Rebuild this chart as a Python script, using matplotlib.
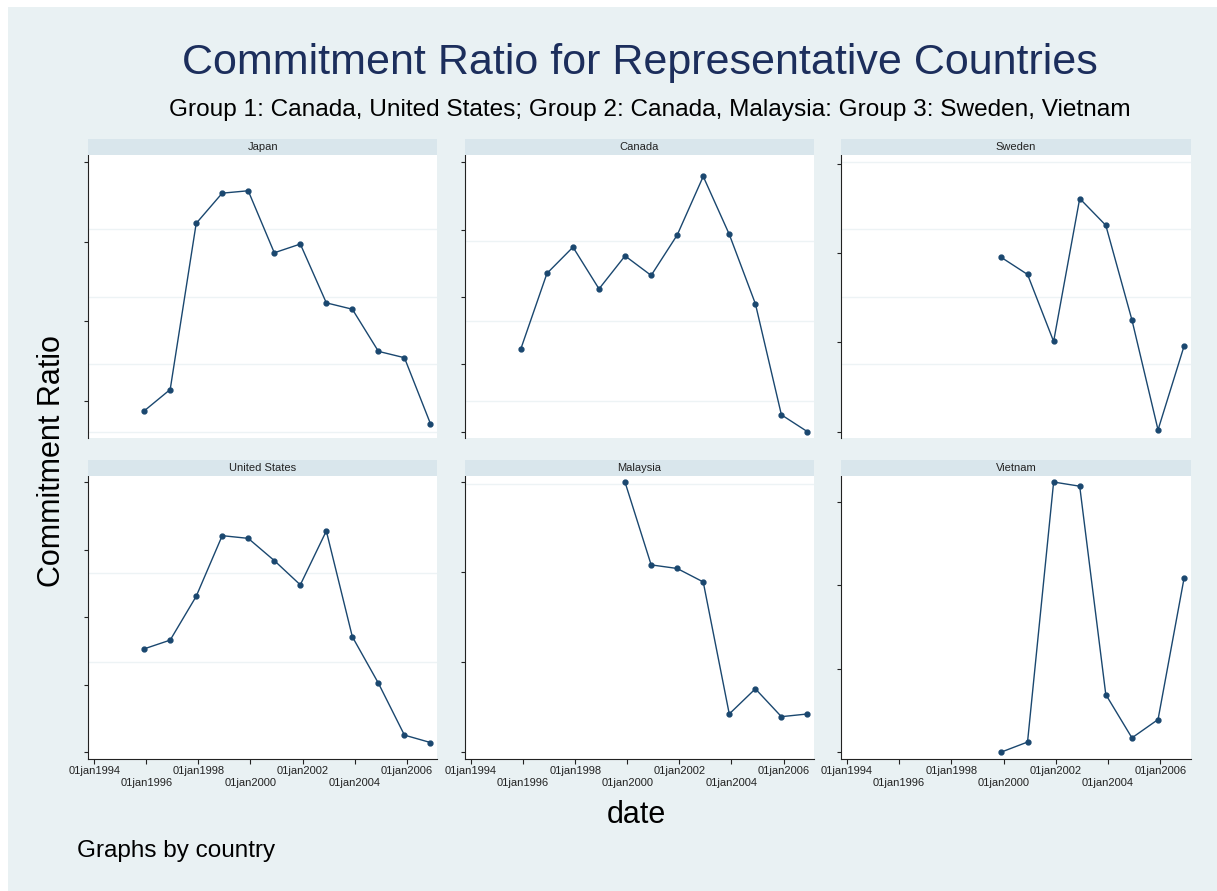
import datetime as dt
import matplotlib
matplotlib.use("Agg")
import matplotlib.pyplot as plt
from matplotlib.patches import Rectangle

plt.rcParams['font.family'] = ['Liberation Sans', 'DejaVu Sans']

# values (y axis has no labels, so units are per-panel tick steps)
years_long = list(range(1995, 2007))
years_short = list(range(1999, 2007))

japan = [0.87, 1.14, 3.23, 3.61, 3.64, 2.86, 2.97, 2.23, 2.15, 1.62, 1.54, 0.71]
canada = [1.23, 2.35, 2.74, 2.12, 2.61, 2.32, 2.92, 3.79, 2.93, 1.90, 0.25, 0.00]
sweden = [1.95, 1.76, 1.01, 2.61, 2.31, 1.25, 0.02, 0.96]
united_states = [1.53, 1.66, 2.31, 3.21, 3.17, 2.84, 2.48, 3.28, 1.71, 1.02, 0.25, 0.14]
malaysia = [3.00, 2.08, 2.04, 1.89, 0.42, 0.70, 0.39, 0.42]
vietnam = [0.00, 0.12, 3.24, 3.19, 0.69, 0.17, 0.39, 2.09]

countries = ["Japan", "Canada", "Sweden", "United States", "Malaysia", "Vietnam"]
series = [japan, canada, sweden, united_states, malaysia, vietnam]
years = [years_long, years_long, years_short, years_long, years_short, years_short]

tick_years = [1994, 1996, 1998, 2000, 2002, 2004, 2006]

# per panel axis setup: y ticks, grid lines, y range
yticks = [[1, 2, 3, 4], [0, 1, 2, 3, 4], [0, 1, 2, 3],
          [0, 1, 2, 3, 4], [0, 1, 2, 3], [0, 1, 2, 3]]
ygrid = [[0.61, 1.46, 2.31, 3.16, 4.0], [0.46, 1.64, 2.83, 4.0],
         [0.0, 0.755, 1.51, 2.27, 3.02], [0.0, 1.33, 2.65, 4.0],
         [0.0, 1.0, 2.0, 2.98], [0.0, 1.0, 2.0, 3.0]]
ylims = [(0.53, 4.09), (-0.094, 4.108), (-0.071, 3.097),
         (-0.10, 4.10), (-0.078, 3.073), (-0.08, 3.316)]

W, H = 1217, 891
BG = '#e9f1f3'
STRIP = '#d9e6ec'
LINE = '#1a476f'
GRID = '#edf3f5'


def box(x0, y0, x1, y1):
    return [x0 / W, 1 - y1 / H, (x1 - x0) / W, (y1 - y0) / H]


fig = plt.figure(figsize=(W / 100, H / 100), dpi=100, facecolor='white')
fig.patches.append(Rectangle((8 / W, 0), 1 - 8 / W, (H - 7) / H,
                             transform=fig.transFigure, facecolor=BG,
                             edgecolor='none', zorder=-10))

cols = [(88.3, 437), (465, 814), (841, 1190.7)]
rows = [(139.3, 155, 438), (460, 475.7, 758.7)]

for i, name in enumerate(countries):
    r, c = divmod(i, 3)
    x0, x1 = cols[c]
    s0, p0, p1 = rows[r]

    ax = fig.add_axes(box(x0, p0, x1, p1))
    ax.set_facecolor('white')
    dates = [dt.datetime(y, 12, 1) for y in years[i]]
    ax.plot(dates, series[i], color=LINE, lw=1.0, marker='o', ms=3.5,
            zorder=3)

    ax.set_ylim(*ylims[i])
    ax.set_yticks(yticks[i])
    ax.set_yticklabels([])
    ax.set_yticks(ygrid[i], minor=True)
    ax.yaxis.grid(True, which='minor', color=GRID, lw=1.0)
    ax.tick_params(axis='y', which='major', direction='out', length=3,
                   width=0.8, color='#222222')
    ax.tick_params(axis='y', which='minor', length=0)

    ax.set_xlim(dt.datetime(1993, 10, 9), dt.datetime(2007, 3, 3))
    even = [dt.datetime(y, 1, 1) for y in tick_years[::2]]
    odd = [dt.datetime(y, 1, 1) for y in tick_years[1::2]]
    ax.set_xticks(even)
    ax.set_xticks(odd, minor=True)

    for side in ['top', 'right']:
        ax.spines[side].set_visible(False)
    ax.spines['left'].set_color('#222222')
    ax.spines['left'].set_linewidth(0.8)

    if r == 1:
        ax.set_xticklabels(['01jan%d' % y for y in tick_years[::2]])
        ax.set_xticklabels(['01jan%d' % y for y in tick_years[1::2]],
                           minor=True)
        ax.tick_params(axis='x', which='major', direction='out', length=3.5,
                       width=0.8, color='#222222', labelsize=8, pad=2,
                       labelcolor='#222222')
        ax.tick_params(axis='x', which='minor', direction='out', length=3.5,
                       width=0.8, color='#222222', labelsize=8, pad=10.4,
                       labelcolor='#222222')
        ax.spines['bottom'].set_color('#222222')
        ax.spines['bottom'].set_linewidth(0.8)
    else:
        ax.spines['bottom'].set_visible(False)
        ax.tick_params(axis='x', which='both', length=0, labelbottom=False)

    # panel header strip
    hx = fig.add_axes(box(x0, s0, x1, p0))
    hx.set_facecolor(STRIP)
    hx.set_xticks([])
    hx.set_yticks([])
    for sp in hx.spines.values():
        sp.set_visible(False)
    hx.text(0.5, 0.5, name, ha='center', va='center', fontsize=8,
            color='#222222', transform=hx.transAxes)

fig.text(640 / W, 1 - 63 / H, 'Commitment Ratio for Representative Countries',
         ha='center', va='center', fontsize=31, color='#1c2e5c')
fig.text(650 / W, 1 - 110 / H,
         'Group 1: Canada, United States; Group 2: Canada, Malaysia: Group 3: Sweden, Vietnam',
         ha='center', va='center', fontsize=17.6, color='black')
fig.text(52.5 / W, 1 - 461 / H, 'Commitment Ratio', rotation=90,
         ha='center', va='center', fontsize=22, color='black')
fig.text(636 / W, 1 - 815 / H, 'date', ha='center', va='center',
         fontsize=22, color='black')
fig.text(77 / W, 1 - 856.7 / H, 'Graphs by country', ha='left',
         va='baseline', fontsize=17.5, color='black')

fig.savefig('out.png', dpi=100, facecolor=fig.get_facecolor())
